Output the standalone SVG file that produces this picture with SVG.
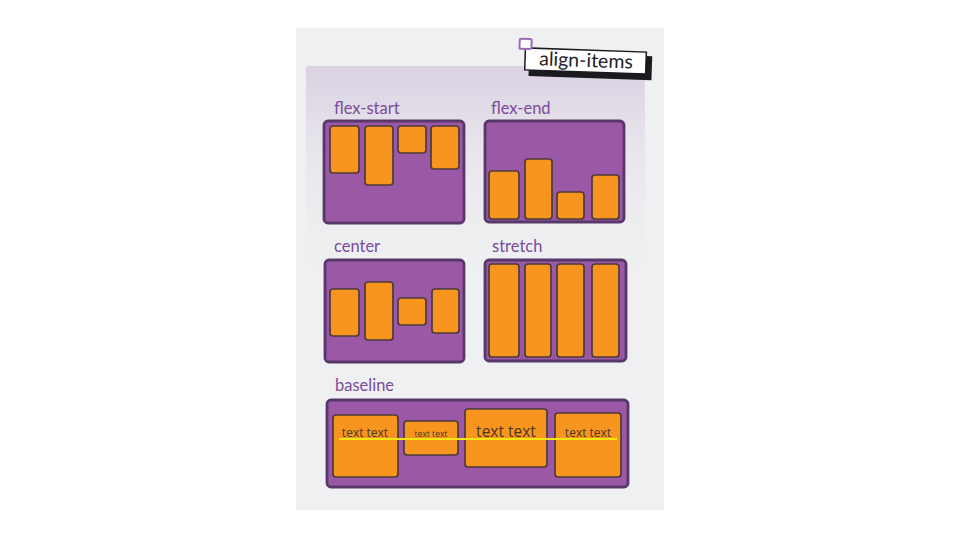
<svg xmlns="http://www.w3.org/2000/svg" width="960" height="540" viewBox="0 0 960 540">
<defs>
<linearGradient id="lav" x1="0" y1="66" x2="0" y2="300" gradientUnits="userSpaceOnUse">
<stop offset="0" stop-color="#dbd1e2"/>
<stop offset="0.35" stop-color="#e8e5ec"/>
<stop offset="1" stop-color="#eff0f1" stop-opacity="0"/>
</linearGradient>
<style>
.box{fill:#9a58a7;stroke:#583868;stroke-width:2.8}
.it{fill:#f7951e;stroke:#4e3a38;stroke-width:1.7}
.hl{fill:none;stroke:#fbb75a;stroke-width:1.2}
.lbl{font-family:Lato,"Noto Sans",sans-serif;font-size:16.5px;fill:#7a4c9b}
.tt{font-family:"Open Sans","Noto Sans",sans-serif;fill:#4a3626;text-anchor:middle}
</style>
</defs>
<rect width="960" height="540" fill="#ffffff"/>
<rect x="296" y="28" width="368" height="482" fill="#eff0f1"/>
<rect x="306" y="66" width="339" height="240" rx="3" fill="url(#lav)"/>

<g id="tag" transform="rotate(2 586 62)">
<rect x="529" y="54" width="123" height="24" fill="#1a1a1f"/>
<rect x="525" y="50" width="121" height="22" fill="#ffffff" stroke="#1a1a1f" stroke-width="1.5"/>
<rect x="519" y="41" width="12" height="10" rx="1.5" fill="#ffffff" stroke="#9b6bb8" stroke-width="2"/>
<text x="586" y="67" text-anchor="middle" font-family="Lato,'Noto Sans',sans-serif" font-size="19.5" fill="#222226">align-items</text>
</g>

<g id="flex-start">
<text class="lbl" x="334" y="114">flex-start</text>
<rect class="box" x="324" y="121" width="140" height="102" rx="4"/>
<rect class="it" x="330" y="126" width="29" height="47" rx="3"/>
<rect class="it" x="365" y="126" width="28" height="59" rx="3"/>
<rect class="it" x="398" y="126" width="28" height="27" rx="3"/>
<rect class="it" x="431" y="126" width="28" height="43" rx="3"/>
</g>

<g id="flex-end">
<text class="lbl" x="491" y="114">flex-end</text>
<rect class="box" x="485" y="121" width="139" height="101" rx="4"/>
<rect class="it" x="489" y="171" width="30" height="48" rx="3"/>
<rect class="it" x="525" y="159" width="27" height="60" rx="3"/>
<rect class="it" x="557" y="192" width="27" height="27" rx="3"/>
<rect class="it" x="592" y="175" width="27" height="44" rx="3"/>
</g>

<g id="center">
<text class="lbl" x="334" y="252">center</text>
<rect class="box" x="325" y="260" width="139" height="102" rx="4"/>
<rect class="it" x="330" y="289" width="29" height="47" rx="3"/>
<rect class="it" x="365" y="282" width="28" height="58" rx="3"/>
<rect class="it" x="398" y="298" width="28" height="27" rx="3"/>
<rect class="it" x="432" y="289" width="27" height="44" rx="3"/>
</g>

<g id="stretch">
<text class="lbl" x="492" y="252">stretch</text>
<rect class="box" x="485" y="260" width="141" height="101" rx="4"/>
<rect class="it" x="489" y="264" width="30" height="93" rx="3"/>
<rect class="it" x="525" y="264" width="26" height="93" rx="3"/>
<rect class="it" x="557" y="264" width="27" height="93" rx="3"/>
<rect class="it" x="592" y="264" width="27" height="93" rx="3"/>
</g>

<g id="baseline">
<text class="lbl" x="335" y="391">baseline</text>
<rect class="box" x="327" y="400" width="301" height="87" rx="4"/>
<rect class="it" x="333" y="415" width="65" height="62" rx="3"/>
<rect class="it" x="404" y="421" width="54" height="34" rx="3"/>
<rect class="it" x="465" y="409" width="82" height="58" rx="3"/>
<rect class="it" x="555" y="413" width="66" height="64" rx="3"/>
<line x1="339" y1="439" x2="617" y2="439" stroke="#f4e410" stroke-width="2"/>
<text class="tt" x="365" y="437" font-size="12">text text</text>
<text class="tt" x="431" y="437" font-size="8.5">text text</text>
<text class="tt" x="506" y="437" font-size="15.5">text text</text>
<text class="tt" x="588" y="437" font-size="12">text text</text>
</g>
</svg>
